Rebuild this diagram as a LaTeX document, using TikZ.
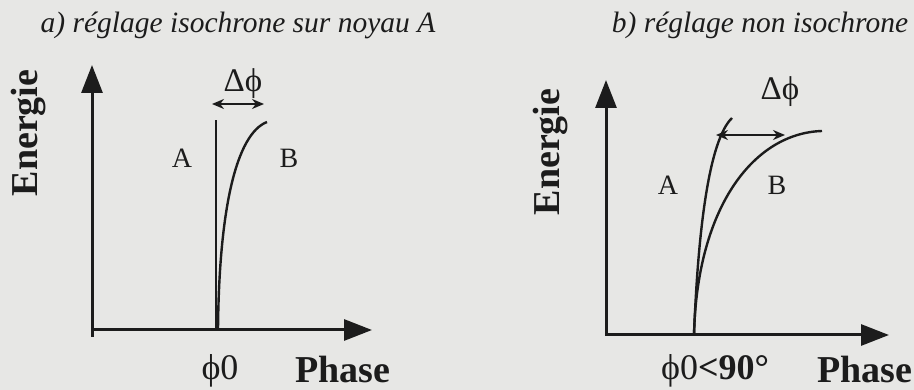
\documentclass[tikz,border=0pt]{standalone}
\usepackage{fontspec}
\setmainfont{Liberation Serif}
\usepackage{xcolor}
\usepackage{tikz}
\usetikzlibrary{arrows.meta, positioning}
\definecolor{paper}{HTML}{E7E7E5}
\definecolor{ink}{HTML}{1C1C1C}
\tikzstyle{axisline} = [line width=3pt, draw=ink, -{Triangle[length=28pt,width=21pt]}]
\tikzstyle{curve} = [line width=2.4pt, draw=ink]
\tikzstyle{deltaarrow} = [line width=2.2pt, draw=ink, {Stealth[length=12pt,width=10pt]}-{Stealth[length=12pt,width=10pt]}]
\tikzstyle{paneltitle} = [anchor=base, inner sep=0pt, text=ink, font=\fontsize{29.5}{32}\selectfont\itshape]
\tikzstyle{axlabel} = [anchor=base, inner sep=0pt, text=ink, font=\fontsize{38}{40}\selectfont\bfseries]
\tikzstyle{curvelabel} = [anchor=base, inner sep=0pt, text=ink, font=\fontsize{28}{30}\selectfont]
\tikzstyle{phaselabel} = [anchor=base, inner sep=0pt, text=ink, font=\fontsize{36}{38}\selectfont]

\begin{document}
\begin{tikzpicture}[x=1pt, y=-1pt]
        % Background
        \fill[paper] (0,0) rectangle (914,390);
        \useasboundingbox (0,0) rectangle (914,390);

        % Left panel: points
        \coordinate (ybotA) at (92,337);
        \coordinate (ytipA) at (92,65);
        \coordinate (orgA) at (91,330);
        \coordinate (xtipA) at (372,330);
        \coordinate (aTopA) at (216,120);
        \coordinate (aBotA) at (216,328);
        \coordinate (bBotA) at (218,330);
        \coordinate (bTopA) at (267,122);
        \coordinate (dLeftA) at (212,104);
        \coordinate (dRightA) at (264,104);

        % Left panel: nodes
        \node (titleA) [paneltitle] at (238,33) {a) réglage isochrone sur noyau A};
        \node (enA) [axlabel, rotate=90, anchor=center] at (29,133) {Energie};
        \node (phA) [axlabel] at (343,382) {Phase};
        \node (phiA) [phaselabel] at (220,380) {ϕ0};
        \node (labAa) [curvelabel] at (182,168) {A};
        \node (labBa) [curvelabel] at (289,168) {B};
        \node (dphiA) [curvelabel, font=\fontsize{33}{35}\selectfont] at (243,92) {Δϕ};

        % Left panel: lines
        \draw [axisline] (ybotA) -- (ytipA);
        \draw [axisline] (orgA) -- (xtipA);
        \draw [curve] (aBotA) -- (aTopA);
        \draw [curve] (bBotA) .. controls (219,210) and (236,134) .. (bTopA);
        \draw [deltaarrow] (dLeftA) -- (dRightA);

        % Right panel: points
        \coordinate (ybotB) at (606,336);
        \coordinate (ytipB) at (606,80);
        \coordinate (orgB) at (605,335);
        \coordinate (xtipB) at (889,335);
        \coordinate (curvesBot) at (694,335);
        \coordinate (aTopB) at (732,118);
        \coordinate (bTopB) at (822,131);
        \coordinate (dLeftB) at (716,135);
        \coordinate (dRightB) at (785,135);

        % Right panel: nodes
        \node (titleB) [paneltitle] at (760,33) {b) réglage non isochrone};
        \node (enB) [axlabel, rotate=90, anchor=center] at (551,152) {Energie};
        \node (phB) [axlabel] at (865,382) {Phase};
        \node (phiB) [phaselabel] at (715,380) {ϕ0\textbf{<90°}};
        \node (labAb) [curvelabel] at (668,195) {A};
        \node (labBb) [curvelabel] at (777,195) {B};
        \node (dphiB) [curvelabel, font=\fontsize{33}{35}\selectfont] at (780,100) {Δϕ};

        % Right panel: lines
        \draw [axisline] (ybotB) -- (ytipB);
        \draw [axisline] (orgB) -- (xtipB);
        \draw [curve] (curvesBot) .. controls (698,230) and (709,140) .. (aTopB);
        \draw [curve] (curvesBot) .. controls (697,205) and (755,133) .. (bTopB);
        \draw [deltaarrow] (dLeftB) -- (dRightB);
    \end{tikzpicture}
\end{document}
